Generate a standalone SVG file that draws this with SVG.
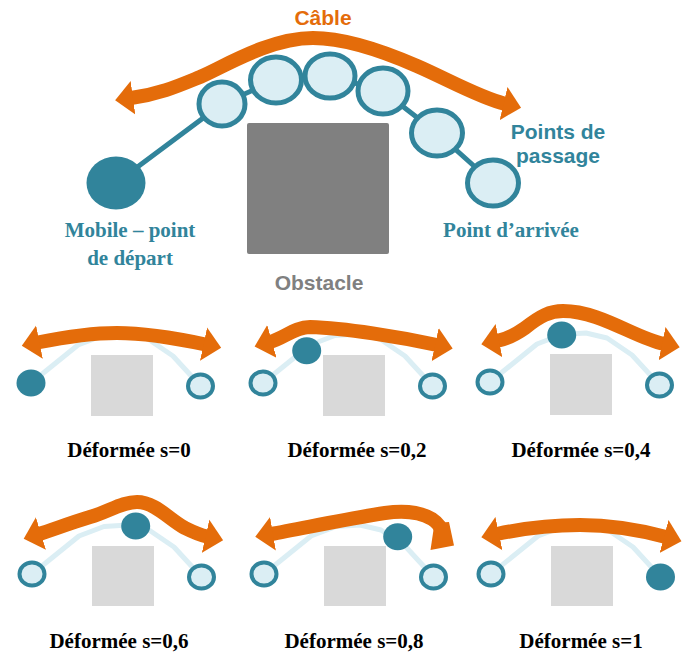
<svg xmlns="http://www.w3.org/2000/svg" width="688" height="655" viewBox="0 0 688 655">
<defs>
<style>
.cable{fill:none;stroke:#E46C0A;stroke-width:14}
.arr{marker-start:url(#ah);marker-end:url(#ah)}
.arrs{marker-start:url(#ah)}
.head{fill:#E46C0A}
.chain{fill:none;stroke:#31849B;stroke-width:5}
.wp{fill:#DBEEF4;stroke:#31849B;stroke-width:5}
.mob{fill:#31849B}
.ghost{fill:none;stroke:#DBEEF4;stroke-width:5;stroke-linejoin:round}
.ring{fill:#DBEEF4;stroke:#31849B;stroke-width:4}
.obs{fill:#D9D9D9}
.sans{font-family:"Liberation Sans",Arial,sans-serif;font-weight:bold;font-size:21px;text-anchor:middle}
.serif{font-family:"Liberation Serif","Times New Roman",serif;font-weight:bold;font-size:21px;text-anchor:middle}
.teal{fill:#31849B}
</style>
<marker id="ah" markerUnits="userSpaceOnUse" markerWidth="20" markerHeight="35" viewBox="0 0 20 35" refX="2" refY="17.5" orient="auto-start-reverse">
<path d="M0,0.5 L18,17.5 L0,34.5 Z" fill="#E46C0A"/>
</marker>
<path id="gp" d="M-60,28 L-13,-10 L12,-19.5 L36,-21 L57,-16 L82,1 L109.5,31"/>
</defs>

<!-- Main diagram -->
<g id="main-cable">
<path class="cable arr" d="M131,98 C160,94 178,86 200,77 C225,66 270,38 313,38 C345,38 385,52 417,66 C445,78 480,98 505.5,104"/>
<text class="sans" x="323" y="25" fill="#E46C0A">Câble</text>
</g>
<g id="connectors">
<polyline class="chain" points="116,183 222,104 276,80 330,76 383,91 437,133 493,183"/>
</g>
<g id="obstacle">
<rect x="247" y="123" width="142" height="131" rx="2" fill="#808080"/>
<text class="sans" x="319" y="290" fill="#808080">Obstacle</text>
</g>
<g id="mobile">
<ellipse class="mob" cx="116" cy="183" rx="29.5" ry="26.5"/>
<text class="serif teal" x="130" y="237">Mobile – point</text>
<text class="serif teal" x="130" y="265">de départ</text>
</g>
<g id="waypoints">
<ellipse class="wp" cx="222" cy="104" rx="23" ry="22"/>
<ellipse class="wp" cx="276" cy="80" rx="25.5" ry="23"/>
<ellipse class="wp" cx="330" cy="76" rx="25" ry="22"/>
<ellipse class="wp" cx="383" cy="91" rx="25" ry="23"/>
<ellipse class="wp" cx="437" cy="133" rx="25.5" ry="23"/>
<text class="sans teal" x="558" y="139">Points de</text>
<text class="sans teal" x="558" y="163">passage</text>
</g>
<g id="arrival">
<ellipse class="wp" cx="493" cy="183" rx="25.5" ry="23"/>
<text class="serif teal" x="511" y="237">Point d’arrivée</text>
</g>

<!-- s=0 -->
<g id="panel-s0">
<use href="#gp" class="ghost" x="91" y="355"/>
<rect class="obs" x="91" y="355" width="62" height="61"/>
<path class="cable arr" d="M37.5,342.5 C70,336 95,333 117,333 C140,333 175,338 205.5,344.5"/>
<ellipse class="mob" cx="31" cy="383" rx="14.5" ry="13.5"/>
<ellipse class="ring" cx="200.5" cy="386" rx="12.5" ry="11.5"/>
<text class="serif" x="129" y="457">Déformée s=0</text>
</g>

<!-- s=0,2 -->
<g id="panel-s02">
<use href="#gp" class="ghost" x="323" y="355"/>
<rect class="obs" x="323" y="355" width="62" height="61"/>
<path class="cable arr" d="M270,342 C284,338 295,327 310,327 C345,328 400,337 437,345"/>
<ellipse class="ring" cx="263" cy="383" rx="12.5" ry="11.5"/>
<ellipse class="ring" cx="432.5" cy="386" rx="12.5" ry="11.5"/>
<ellipse class="mob" cx="306.7" cy="350.7" rx="14.5" ry="13.5"/>
<text class="serif" x="357" y="457">Déformée s=0,2</text>
</g>

<!-- s=0,4 -->
<g id="panel-s04">
<use href="#gp" class="ghost" x="550" y="354"/>
<rect class="obs" x="550" y="354" width="62" height="61"/>
<path class="cable arr" d="M497,341 C507,339 515,335 525,328 C540,316 550,311 563,311 C600,311 635,338 664,344"/>
<ellipse class="ring" cx="490" cy="382" rx="12.5" ry="11.5"/>
<ellipse class="ring" cx="659.5" cy="385" rx="12.5" ry="11.5"/>
<ellipse class="mob" cx="561.7" cy="335" rx="14.5" ry="13.5"/>
<text class="serif" x="581" y="457">Déformée s=0,4</text>
</g>

<!-- s=0,6 -->
<g id="panel-s06">
<use href="#gp" class="ghost" x="92" y="546"/>
<rect class="obs" x="92" y="546" width="62" height="60"/>
<path class="cable arr" d="M39,534 C52,530 70,523 90,517 C110,511 122,502 137,502 C155,502 170,520 185,528 C193,532 200,535 207.5,536.7"/>
<ellipse class="ring" cx="32" cy="574" rx="12.5" ry="11.5"/>
<ellipse class="ring" cx="201.5" cy="577" rx="12.5" ry="11.5"/>
<ellipse class="mob" cx="135.7" cy="526" rx="14.5" ry="13.5"/>
<text class="serif" x="119" y="648">Déformée s=0,6</text>
</g>

<!-- s=0,8 -->
<g id="panel-s08">
<use href="#gp" class="ghost" x="324" y="546"/>
<rect class="obs" x="324" y="546" width="62" height="60"/>
<path class="cable arrs" d="M271,534 C300,529 345,519 385,513 C405,510 420,512 432,519 C438,523 441,527 441.5,532"/>
<polygon class="head" points="434.5,523 449,522 454,545.5 430.5,550"/>
<ellipse class="ring" cx="264" cy="574" rx="12.5" ry="11.5"/>
<ellipse class="ring" cx="433.5" cy="577" rx="12.5" ry="11.5"/>
<ellipse class="mob" cx="397.7" cy="536.7" rx="14.5" ry="13.5"/>
<text class="serif" x="354" y="648">Déformée s=0,8</text>
</g>

<!-- s=1 -->
<g id="panel-s1">
<use href="#gp" class="ghost" x="551" y="546"/>
<rect class="obs" x="551" y="546" width="62" height="60"/>
<path class="cable arr" d="M497,534 C530,527 560,525 580,525 C610,525 640,530 666,537"/>
<ellipse class="ring" cx="491" cy="574" rx="12.5" ry="11.5"/>
<ellipse class="mob" cx="660.5" cy="577" rx="14.5" ry="13.5"/>
<text class="serif" x="581" y="648">Déformée s=1</text>
</g>
</svg>
